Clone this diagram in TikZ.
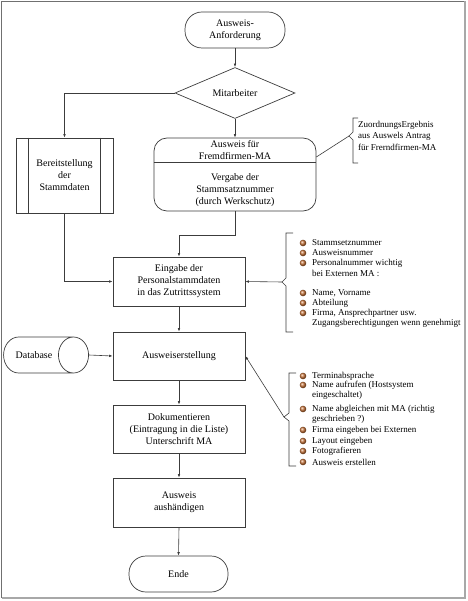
\documentclass[tikz,border=0pt]{standalone}
\usepackage{fontspec}
\setmainfont{Liberation Serif}
\usetikzlibrary{shapes.geometric,arrows.meta,calc,positioning}
\definecolor{ink}{HTML}{3C3C3C}
\definecolor{ballcol}{HTML}{C8743A}
\definecolor{framedark}{HTML}{707070}
\definecolor{framelight}{HTML}{A8A8A8}

\begin{document}
\begin{tikzpicture}[x=1pt,y=-1pt,
  proc/.style={rectangle,draw=ink,line width=0.7pt,minimum width=132pt,minimum height=48pt,align=center,font=\fontsize{10}{12}\selectfont,inner sep=2pt},
  term/.style={rectangle,rounded corners=17pt,draw=ink,line width=0.7pt,minimum width=100pt,minimum height=36pt,align=center,font=\fontsize{10}{12}\selectfont},
  decision/.style={diamond,aspect=2.35,draw=ink,line width=0.7pt,minimum width=120pt,minimum height=51pt,inner sep=0pt,font=\fontsize{10}{12}\selectfont},
  db/.style={cylinder,aspect=2.2,draw=ink,line width=0.7pt,minimum width=36pt,minimum height=85pt,font=\fontsize{10}{12}\selectfont},
  txt/.style={align=center,inner sep=0pt,font=\fontsize{10}{12}\selectfont},
  note/.style={anchor=west,inner sep=0pt,font=\fontsize{9}{10}\selectfont},
  arrow/.style={-{Latex[length=3.5pt,width=2.6pt]},ink,line width=0.6pt},
  link/.style={ink,line width=0.6pt},
  bracket/.style={ink,line width=0.6pt},
]
\useasboundingbox (0,0) rectangle (467,601);
% page frame
\draw[framedark,line width=1pt] (1.5,598) -- (1.5,1.5) -- (465,1.5);
\draw[framelight,line width=1.5pt] (465,1.5) -- (465,598) -- (1.5,598);

% MAIN FLOW
\node[term] (start) at (235,30) {Ausweis-\\Anforderung};
\node[decision] (mitarb) at (235,93) {Mitarbeiter};
\node[proc,minimum width=97pt,minimum height=75pt] (bereit) at (64.5,175.5) {Bereitstellung\\der\\Stammdaten};
\draw[ink,line width=0.7pt] ([xshift=13pt]bereit.north west) -- ([xshift=13pt]bereit.south west);
\draw[ink,line width=0.7pt] ([xshift=-13pt]bereit.north east) -- ([xshift=-13pt]bereit.south east);

% Fremdfirmen box (two parts)
\node[rectangle,rounded corners=13pt,draw=ink,line width=0.7pt,minimum width=162pt,minimum height=73pt] (fremd) at (235,174.5) {};
\draw[ink,line width=0.7pt] ([yshift=-25pt]fremd.north west) -- ([yshift=-25pt]fremd.north east);
\node[txt] (fremdtop) at (235,150.5) {Ausweis für\\Fremdfirmen-MA};
\node[txt] (fremdbot) at (235,190) {Vergabe der\\Stammsatznummer\\(durch Werkschutz)};

\node[proc,minimum height=49pt] (eingabe) at (179,281.5) {Eingabe der\\Personalstammdaten\\in das Zutrittssystem};
\node[proc] (erstell) at (179,356) {Ausweiserstellung};
\node[db] (dbase) at (34,355) {Database};
\node[proc] (doku) at (179,429) {Dokumentieren\\(Eintragung in die Liste)\\Unterschrift MA};
\node[proc,minimum height=49pt] (aushaend) at (179,502.5) {Ausweis\\aushändigen};
\node[term,minimum width=99pt] (ende) at (178.5,574) {Ende};

% EDGES
\draw[arrow] (start.south) -- (mitarb.north);
\draw[arrow] (mitarb.west) -| (bereit.north);
\draw[arrow] (mitarb.south) -- (fremd.north);
\draw[arrow] (bereit.south) |- (eingabe.west);
\draw[arrow] (fremd.south) -- ++(0,24) -| (eingabe.north);
\draw[arrow] (eingabe.south) -- (erstell.north);
\draw[arrow] (dbase.east) -- (erstell.west);
\draw[arrow] (erstell.south) -- (doku.north);
\draw[arrow] (doku.south) -- (aushaend.north);
\draw[arrow] (aushaend.south) -- (ende.north);

% ANNOTATION: Zuordnung
\coordinate (tipZ) at (349,136);
\draw[bracket] (358,118) -- (353,118) -- (353,132) -- (tipZ) -- (353,140) -- (353,163) -- (358,163);
\draw[link] (tipZ) -- ([yshift=17.5pt]fremd.east);
\node[note] (z1) at (358,125) {ZuordnungsErgebnis};
\node[note] (z2) at (358,136) {aus Auswels Antrag};
\node[note] (z3) at (358,147) {für Frerndfirmen-MA};

% ANNOTATION: Stammdaten
\coordinate (tipS) at (282,282);
\draw[bracket] (293,233) -- (286,233) -- (286,278) -- (tipS) -- (286,286) -- (286,332) -- (293,332);
\draw[arrow] (tipS) -- (eingabe.east);
\foreach \y in {243,253,263,293,303,313}
  \shade[ball color=ballcol] (303,\y) circle (3.3pt);
\node[note] (s1) at (312,243) {Stammsetznummer};
\node[note] (s2) at (312,253) {Ausweisnummer};
\node[note] (s3) at (312,263) {Personalnummer wichtig};
\node[note] (s4) at (312,273) {bei Externen MA :};
\node[note] (s5) at (312,293) {Name, Vorname};
\node[note] (s6) at (312,303) {Abteilung};
\node[note] (s7) at (312,313) {Firma, Ansprechpartner usw.};
\node[note] (s8) at (312,323) {Zugangsberechtigungen wenn genehmigt};

% ANNOTATION: Erstellung
\coordinate (tipE) at (284,417);
\draw[bracket] (296,373) -- (289,373) -- (289,413) -- (tipE) -- (289,421) -- (289,466) -- (296,466);
\draw[arrow] (tipE) -- (erstell.east);
\foreach \y in {376,385,409,430,441,451,462}
  \shade[ball color=ballcol] (303,\y) circle (3.3pt);
\node[note] (e1) at (312,376) {Terminabsprache};
\node[note] (e2) at (312,385) {Name aufrufen (Hostsystem};
\node[note] (e3) at (312,395) {eingeschaltet)};
\node[note] (e4) at (312,409) {Name abgleichen mit MA (richtig};
\node[note] (e5) at (312,419) {geschrieben ?)};
\node[note] (e6) at (312,430) {Firma eingeben bei Externen};
\node[note] (e7) at (312,441) {Layout eingeben};
\node[note] (e8) at (312,451) {Fotografieren};
\node[note] (e9) at (312,462) {Ausweis erstellen};
\end{tikzpicture}
\end{document}
